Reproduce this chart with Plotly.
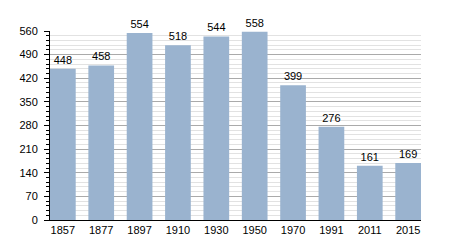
import plotly.graph_objects as go

years = ["1857", "1877", "1897", "1910", "1930", "1950", "1970", "1991", "2011", "2015"]
population = [448, 458, 554, 518, 544, 558, 399, 276, 161, 169]
y_ticks = [0, 70, 140, 210, 280, 350, 420, 490, 560]

fig = go.Figure(go.Bar(
    x=years, y=population,
    marker=dict(color="#9ab3cf", line=dict(width=0)),
    text=[str(v) for v in population], textposition="outside",
    textfont=dict(family="Liberation Sans, Arial", size=11, color="#000"),
    cliponaxis=False, width=0.67,
))

fig.update_layout(
    width=450, height=250,
    margin=dict(l=50, r=29, t=31, b=30),
    paper_bgcolor="white", plot_bgcolor="white",
    showlegend=False,
    font=dict(family="Liberation Sans, Arial", size=11, color="#000"),
)
fig.update_xaxes(
    type="category", range=[-0.335, len(years) - 1 + 0.335],
    showline=True, linecolor="#000", linewidth=1,
    ticks="", showgrid=False, tickfont=dict(size=11),
)
fig.update_yaxes(
    range=[0, 560], tickvals=y_ticks, showline=True, linecolor="#000", linewidth=1,
    ticks="outside", ticklen=5, tickcolor="#000",
    showgrid=True, gridcolor="#aaaaaa", gridwidth=1, zeroline=False,
    minor=dict(dtick=14, showgrid=True, gridcolor="#e2e2e2", ticks="outside", ticklen=3, tickcolor="#000"),
    tickfont=dict(size=11), ticklabelstandoff=4,
)

fig.write_html("out.html")
